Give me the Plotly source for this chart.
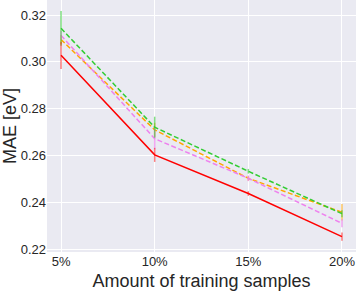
import plotly.graph_objects as go

x_pct = [5, 10, 15, 20]
x_labels = ["5%", "10%", "15%", "20%"]

red_mae = [0.3028, 0.2603, 0.2438, 0.2254]
red_err = [0.0058, 0.0030, 0.0010, 0.0018]

green_mae = [0.3143, 0.2721, 0.2533, 0.2352]
green_err = [0.0074, 0.0045, 0.0010, 0.0015]

orange_mae = [0.3095, 0.2710, 0.2503, 0.2358]
orange_err = [0.0020, 0.0030, 0.0010, 0.0035]

violet_mae = [0.3113, 0.2672, 0.2503, 0.2311]
violet_err = [0.0020, 0.0045, 0.0012, 0.0017]

series = [
    ("orange", orange_mae, orange_err, "#ffa500", "rgba(255,165,0,0.6)", "dash"),
    ("violet", violet_mae, violet_err, "#ee82ee", "rgba(238,130,238,0.7)", "dash"),
    ("green", green_mae, green_err, "#32cd32", "rgba(50,205,50,0.6)", "dash"),
    ("red", red_mae, red_err, "#ff0000", "rgba(255,0,0,0.5)", "solid"),
]

fig = go.Figure()
for name, y, e, col, ecol, dash in series:
    fig.add_trace(go.Scatter(
        x=x_pct, y=y, mode="lines", name=name,
        line=dict(color=col, width=1.5, dash="5px,2.5px" if dash == "dash" else "solid"),
        error_y=dict(type="data", array=e, visible=True, color=ecol, thickness=1.5, width=0),
        showlegend=False,
    ))

font_family = "Liberation Sans, Arial, sans-serif"
fig.update_layout(
    width=356, height=294,
    margin=dict(l=47, r=0, t=0, b=42, autoexpand=False),
    paper_bgcolor="white",
    plot_bgcolor="#eaeaf2",
    font=dict(family=font_family, color="#262626", size=13),
    xaxis=dict(
        range=[4.25, 20.75], tickmode="array", tickvals=x_pct, ticktext=x_labels,
        showgrid=True, gridcolor="white", gridwidth=1, zeroline=False, showline=False,
        ticks="", tickfont=dict(size=13), automargin=False,
        title=dict(text="Amount of training samples", font=dict(size=18), standoff=6),
    ),
    yaxis=dict(
        range=[0.21885, 0.3264], tickmode="array",
        tickvals=[0.22, 0.24, 0.26, 0.28, 0.30, 0.32],
        ticktext=["0.22", "0.24", "0.26", "0.28", "0.30", "0.32"],
        showgrid=True, gridcolor="white", gridwidth=1, zeroline=False, showline=False,
        ticks="", tickfont=dict(size=13), automargin=False,
        title=dict(text="MAE [eV]", font=dict(size=18), standoff=2),
    ),
)

fig.write_html(
    "out.html",
    config={"displayModeBar": False},
    post_script="document.body.style.margin='0';document.body.style.overflow='hidden';",
)
